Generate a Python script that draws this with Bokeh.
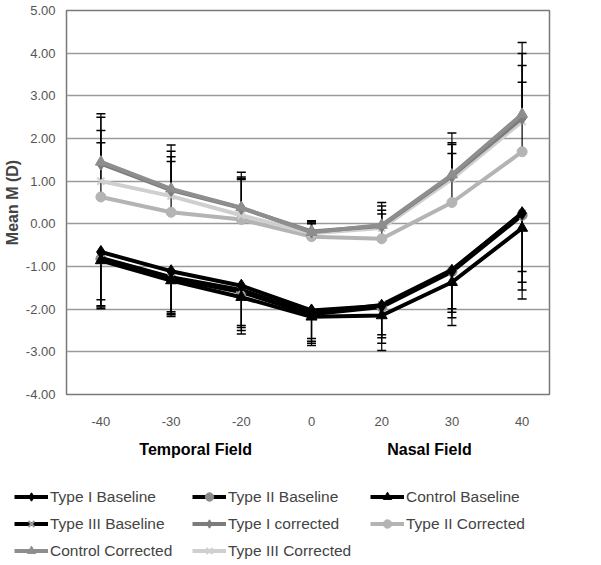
from bokeh.plotting import figure
from bokeh.layouts import column, row
from bokeh.models import (Whisker, TeeHead, Range1d, FixedTicker, LinearAxis,
                          Legend, LegendItem, NumeralTickFormatter, ColumnDataSource)
from bokeh.embed import file_html
from bokeh.resources import INLINE

# field positions (degrees), shown as categories
fields = ["-40", "-30", "-20", "0", "20", "30", "40"]
y_ticks = [-4, -3, -2, -1, 0, 1, 2, 3, 4, 5]

# mean M (D) per series
type1_base = [-0.66, -1.11, -1.45, -2.03, -1.92, -1.10, 0.25]
type2_base = [-0.82, -1.28, -1.60, -2.12, -1.95, -1.12, 0.20]
control_base = [-0.86, -1.33, -1.72, -2.18, -2.15, -1.37, -0.10]
type3_base = [-0.80, -1.25, -1.55, -2.10, -1.90, -1.08, 0.25]
type1_corr = [1.41, 0.79, 0.37, -0.18, -0.05, 1.12, 2.48]
type2_corr = [0.63, 0.27, 0.10, -0.30, -0.35, 0.50, 1.69]
control_corr = [1.45, 0.82, 0.38, -0.20, -0.03, 1.15, 2.57]
type3_corr = [1.00, 0.65, 0.20, -0.22, -0.10, 1.05, 2.40]

# standard deviations (baseline drawn downwards, corrected upwards)
type1_base_sd = [1.12, 0.95, 0.93, 0.66, 0.68, 0.89, 1.37]
type2_base_sd = [1.13, 0.85, 0.90, 0.68, 0.85, 1.08, 1.75]
control_base_sd = [1.13, 0.84, 0.86, 0.67, 0.82, 1.01, 1.66]
type3_base_sd = [1.12, 0.85, 0.88, 0.65, 0.77, 0.99, 1.62]
type1_corr_sd = [1.09, 0.91, 0.73, 0.23, 0.47, 0.78, 1.51]
type2_corr_sd = [1.27, 1.19, 0.94, 0.30, 0.58, 1.15, 1.63]
control_corr_sd = [1.13, 1.03, 0.83, 0.27, 0.53, 0.98, 1.68]
type3_corr_sd = [1.19, 0.92, 0.86, 0.24, 0.42, 0.81, 1.31]

xs = list(range(len(fields)))

FONT = "Liberation Sans"

p = figure(frame_width=483, frame_height=384,
           x_range=Range1d(-0.49, 6.39), y_range=Range1d(-4, 5),
           output_backend="svg", toolbar_location=None,
           min_border_left=58, min_border_right=44, min_border_top=10, min_border_bottom=76)

p.xgrid.grid_line_color = None
p.ygrid.grid_line_color = "#9a9a9a"
p.ygrid.grid_line_width = 1.5
p.outline_line_color = "#7a7a7a"
p.outline_line_width = 1.5
p.background_fill_color = "white"

p.yaxis.ticker = FixedTicker(ticks=y_ticks)
p.yaxis.formatter = NumeralTickFormatter(format="0.00")
p.yaxis.axis_label = "Mean M (D)"
p.yaxis.axis_label_text_font = FONT
p.yaxis.axis_label_text_font_style = "bold"
p.yaxis.axis_label_text_font_size = "16px"
p.yaxis.axis_label_standoff = 2
p.yaxis.major_label_standoff = 11

p.xaxis.ticker = FixedTicker(ticks=xs)
p.xaxis.major_label_overrides = {i: f for i, f in enumerate(fields)}
p.xaxis.major_label_standoff = 22

for ax in (p.xaxis, p.yaxis):
    ax.axis_line_color = None
    ax.major_tick_line_color = None
    ax.minor_tick_line_color = None
    ax.major_tick_out = 0
    ax.major_label_text_font = FONT
    ax.major_label_text_font_size = "13px"
    ax.major_label_text_color = "#555555"

fields_axis = LinearAxis(ticker=FixedTicker(ticks=[1.35, 4.68]),
                         major_label_overrides={1.35: "Temporal Field", 4.68: "Nasal Field"},
                         axis_line_color=None, major_tick_line_color=None,
                         minor_tick_line_color=None, major_tick_out=0,
                         major_label_standoff=12, major_label_text_font=FONT,
                         major_label_text_font_style="bold",
                         major_label_text_font_size="16px",
                         major_label_text_color="black")
p.add_layout(fields_axis, "below")

# separate strip under the chart that only holds the legend
leg = figure(width=585, height=92, x_range=Range1d(-10, -9), y_range=Range1d(-10, -9),
             x_axis_type=None, y_axis_type=None, output_backend="svg",
             toolbar_location=None, min_border=0, min_border_left=0,
             min_border_right=0, outline_line_color=None)

series = [
    # label, mean, sd, direction, line colour, marker, marker colour, size
    ("Type I Baseline", type1_base, type1_base_sd, -1, "black", "diamond", "black", 13),
    ("Type II Baseline", type2_base, type2_base_sd, -1, "black", "circle", "#8a8a8a", 10),
    ("Control Baseline", control_base, control_base_sd, -1, "black", "triangle", "black", 11),
    ("Type III Baseline", type3_base, type3_base_sd, -1, "black", "x", "#9a9a9a", 10),
    ("Type I corrected", type1_corr, type1_corr_sd, 1, "#7c7c7c", "diamond", "#7c7c7c", 13),
    ("Type II Corrected", type2_corr, type2_corr_sd, 1, "#b4b4b4", "circle", "#b4b4b4", 10),
    ("Control Corrected", control_corr, control_corr_sd, 1, "#8e8e8e", "triangle", "#8e8e8e", 11),
    ("Type III Corrected", type3_corr, type3_corr_sd, 1, "#cfcfcf", "x", "#cfcfcf", 10),
]

draw_order = [5, 7, 4, 6, 1, 3, 2, 0]
items = {}
for k in draw_order:
    label, mean, sd, d, lc, mk, mc, sz = series[k]
    rs = []
    for fig in (p, leg):
        ln = fig.line(xs, mean, line_color=lc, line_width=4)
        sc = fig.scatter(xs, mean, marker=mk, size=sz, fill_color=mc, line_color=mc,
                         line_width=2 if mk == "x" else 1)
        rs = [ln, sc]
    items[k] = LegendItem(label=label, renderers=rs)

for k in range(len(series)):
    label, mean, sd, d, lc, mk, mc, sz = series[k]
    end = [m + d * s for m, s in zip(mean, sd)]
    src = ColumnDataSource(dict(x=xs, lo=[min(a, b) for a, b in zip(mean, end)],
                                hi=[max(a, b) for a, b in zip(mean, end)]))
    head = TeeHead(size=9, line_color="black", line_width=1.5)
    w = Whisker(source=src, base="x", lower="lo", upper="hi", line_color="black",
                line_width=1.2,
                upper_head=head if d > 0 else None,
                lower_head=head if d < 0 else None)
    p.add_layout(w)

# legend is laid out column by column: reorder so rows read as in the reference
legend_order = [0, 3, 6, 1, 4, 7, 2, 5]
legend = Legend(items=[items[k] for k in legend_order], nrows=3,
                location=(14, 1),
                border_line_color=None, background_fill_alpha=0,
                padding=0, margin=0, spacing=6,
                glyph_width=34, glyph_height=21, label_height=21, label_width=136,
                label_standoff=2, label_text_font=FONT, label_text_font_size="15.5px")
leg.add_layout(legend)

open("out.html", "w").write(file_html(column(p, row(leg), spacing=0), INLINE))
